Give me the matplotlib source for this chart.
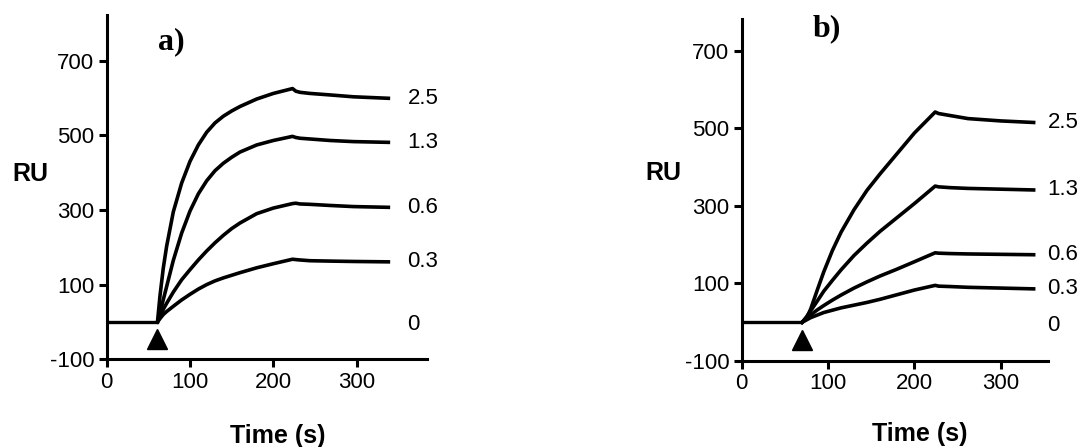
import matplotlib.pyplot as plt

plt.rcParams['font.family'] = ['Liberation Sans', 'DejaVu Sans']
plt.rcParams['axes.unicode_minus'] = False

# --- panel a) : lectures sur la figure ---
t_inj_a = 61
t_on_a = [61, 64, 68, 72, 80, 90, 100, 110, 120, 130, 140, 150, 160, 180, 200, 223]
t_off_a = [223, 227, 232, 244, 268, 296, 338]
ru_a_25 = [0, 70, 145, 203, 295, 372, 430, 474, 508, 533, 551, 565, 577, 597, 612, 625]
ru_a_13 = [0, 25, 60, 95, 165, 238, 297, 343, 378, 405, 425, 441, 455, 474, 486, 497]
ru_a_06 = [0, 14, 34, 50, 80, 113, 140, 166, 190, 212, 232, 250, 265, 290, 305, 317]
ru_a_03 = [0, 9, 20, 28, 42, 59, 74, 88, 100, 110, 118, 125, 132, 145, 156, 168]
off_a_25 = [625, 618, 615, 612, 608, 603, 599]
off_a_13 = [497, 494, 492, 490, 486, 483, 481]
off_a_06 = [317, 318, 316, 315, 312, 309, 307]
off_a_03 = [168, 167, 166, 164, 163, 162, 161]

# --- panel b) ---
t_inj_b = 70
t_on_b = [70, 75, 80, 87, 95, 105, 115, 130, 145, 160, 180, 200, 224]
t_off_b = [224, 228, 241, 262, 300, 338]
ru_b_25 = [0, 10, 35, 80, 130, 185, 232, 290, 340, 382, 435, 488, 542]
ru_b_13 = [0, 14, 30, 53, 80, 108, 135, 172, 204, 234, 270, 306, 351]
ru_b_06 = [0, 8, 19, 31, 43, 57, 70, 88, 104, 119, 137, 156, 179]
ru_b_03 = [0, 6, 12, 18, 25, 31, 37, 44, 51, 59, 71, 83, 95]
off_b_25 = [542, 538, 533, 525, 519, 515]
off_b_13 = [351, 349, 347, 345, 343, 341]
off_b_06 = [179, 178, 177, 176, 175, 174]
off_b_03 = [95, 93, 92, 90, 88, 86]

conc_labels = ['2.5', '1.3', '0.6', '0.3']
yticks = [-100, 100, 300, 500, 700]
xticks = [0, 100, 200, 300]

fig = plt.figure(figsize=(10.86, 4.47), dpi=100)
ax_a = fig.add_axes([0.0982, 0.1962, 0.2947, 0.7702])
ax_b = fig.add_axes([0.683, 0.1924, 0.2823, 0.7644])

panels = [
    (ax_a, 'a)', t_inj_a, t_on_a, t_off_a,
     [ru_a_25, ru_a_13, ru_a_06, ru_a_03],
     [off_a_25, off_a_13, off_a_06, off_a_03],
     (0, 384), (-100, 822), 361, (78, 751), (-92, 396), (277.5, 436.5)),
    (ax_b, 'b)', t_inj_b, t_on_b, t_off_b,
     [ru_b_25, ru_b_13, ru_b_06, ru_b_03],
     [off_b_25, off_b_13, off_b_06, off_b_03],
     (0, 355), (-100, 781), 354, (98, 756), (-91, 384), (920, 433.5)),
]

for ax, tag, t_inj, t_on, t_off, ons, offs, xl, yl, x_lab, tag_xy, ru_xy, time_px in panels:
    # ligne de base avant injection
    ax.plot([0, t_inj], [0, 0], color='black', lw=2.4, solid_capstyle='butt')
    for on, off, lab in zip(ons, offs, conc_labels):
        ax.plot(t_on + t_off[1:], on + off[1:], color='black', lw=2.6,
                solid_joinstyle='round')
        ax.text(x_lab, off[-1], lab, fontsize=16, va='center', ha='left',
                clip_on=False)
    ax.text(x_lab, -8, '0', fontsize=16, va='center', ha='left', clip_on=False)
    # triangle = injection
    ax.plot([t_inj], [-46], marker='^', color='black', ms=15, clip_on=False)

    ax.set_xlim(*xl)
    ax.set_ylim(*yl)
    ax.set_xticks(xticks)
    ax.set_yticks(yticks)
    ax.tick_params(labelsize=16, width=2.2, length=6, direction='out', pad=3)
    for s in ['top', 'right']:
        ax.spines[s].set_visible(False)
    for s in ['left', 'bottom']:
        ax.spines[s].set_linewidth(2.2)

    ax.text(tag_xy[0], tag_xy[1], tag, fontsize=23, fontweight='bold',
            family='Liberation Serif', ha='center', va='center', clip_on=False)
    ax.text(ru_xy[0], ru_xy[1], 'RU', fontsize=18, fontweight='bold',
            ha='center', va='center', clip_on=False)
    # "Time (s)" sous l'axe (position en pixels de la figure)
    fig.text(time_px[0] / 1086, 1 - time_px[1] / 447, 'Time (s)', fontsize=18,
             fontweight='bold', ha='center', va='center')

fig.savefig('out.png', dpi=100)
